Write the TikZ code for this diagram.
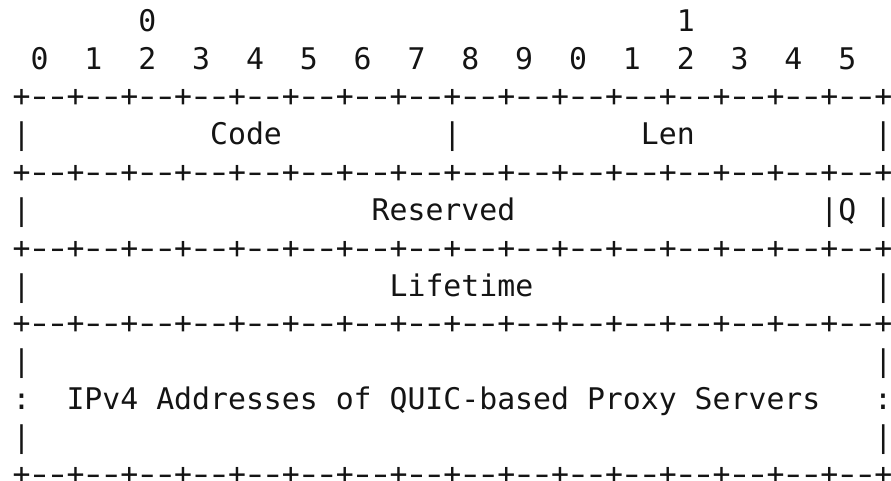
\documentclass[tikz,border=0pt]{standalone}
\usepackage{fontspec}
\usepackage{graphicx}
\newfontfamily\asciifont{DejaVu Sans Mono}
\newcommand\gap[1]{\kern#1\fontcharwd\font`0\relax}
\newcommand\dsh{\makebox[\fontcharwd\font`0][c]{\scalebox{1.45}[1]{-}}}
\newcommand\cell{+\dsh\dsh}
\newcommand\brow{\cell\cell\cell\cell\cell\cell\cell\cell\cell\cell\cell\cell\cell\cell\cell\cell+}
\tikzset{
  txt/.style={anchor=base west, inner sep=0pt, outer sep=0pt,
    font=\asciifont\fontsize{22.36pt}{28pt}\selectfont\frenchspacing, text=black!92}
}
\begin{document}
\begin{tikzpicture}[x=0.75pt,y=-0.75pt]
\fill[white] (0,0) rectangle (891,481);
\useasboundingbox (0,0) rectangle (891,481);
\node[txt] (r1)  at (12.7, 31.4)  {\gap{7}0\gap{29}1};
\node[txt] (r2)  at (12.7, 69.2)  {\gap{1}0\gap{2}1\gap{2}2\gap{2}3\gap{2}4\gap{2}5\gap{2}6\gap{2}7\gap{2}8\gap{2}9\gap{2}0\gap{2}1\gap{2}2\gap{2}3\gap{2}4\gap{2}5};
\node[txt] (r3)  at (12.7, 107.0) {\brow};
\node[txt] (r4)  at (12.7, 144.8) {|\gap{10}Code\gap{9}|\gap{10}Len\gap{10}|};
\node[txt] (r5)  at (12.7, 182.6) {\brow};
\node[txt] (r6)  at (12.7, 220.4) {|\gap{19}Reserved\gap{17}|Q\gap{1}|};
\node[txt] (r7)  at (12.7, 258.2) {\brow};
\node[txt] (r8)  at (12.7, 296.0) {|\gap{20}Lifetime\gap{19}|};
\node[txt] (r9)  at (12.7, 333.8) {\brow};
\node[txt] (r10) at (12.7, 371.6) {|\gap{47}|};
\node[txt] (r11) at (12.7, 409.4) {:\gap{2}IPv4 Addresses of QUIC-based Proxy Servers\gap{3}:};
\node[txt] (r12) at (12.7, 447.2) {|\gap{47}|};
\node[txt] (r13) at (12.7, 484.0) {\brow};
\end{tikzpicture}
\end{document}
